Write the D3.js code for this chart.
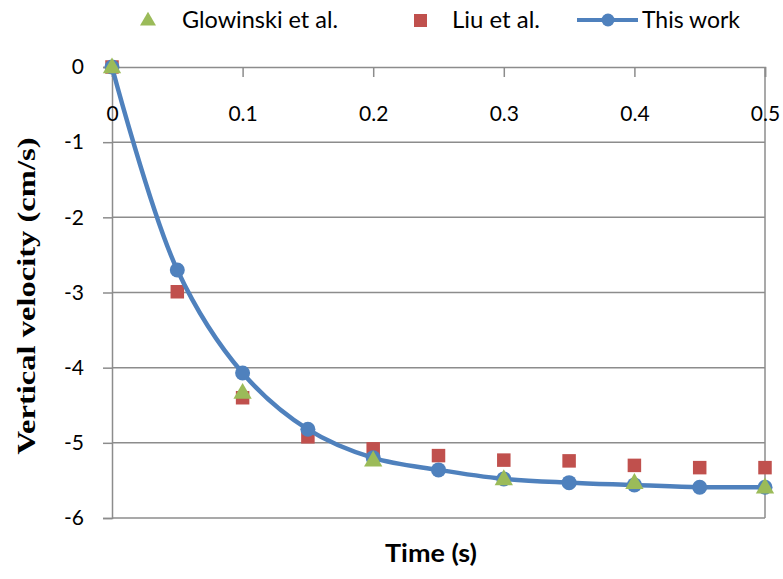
<!DOCTYPE html>
<html>
<head>
<meta charset="utf-8">
<script src="https://cdn.jsdelivr.net/npm/d3@7"></script>
<style>
  body { margin: 0; background: #fff; }
  svg text { font-family: Lato, "Open Sans", sans-serif; fill: #000; }
</style>
</head>
<body>
<div id="chart"></div>
<script>
// values
var timeWork = [0, 0.05, 0.1, 0.15, 0.2, 0.25, 0.3, 0.35, 0.4, 0.45, 0.5];
var velWork = [0, -2.70, -4.07, -4.82, -5.2, -5.36, -5.48, -5.53, -5.56, -5.59, -5.59];

var timeLiu = [0, 0.05, 0.1, 0.15, 0.2, 0.25, 0.3, 0.35, 0.4, 0.45, 0.5];
var velLiu = [0, -2.99, -4.40, -4.92, -5.08, -5.17, -5.23, -5.24, -5.30, -5.33, -5.33];

var timeGlow = [0, 0.1, 0.2, 0.3, 0.4, 0.5];
var velGlow = [0, -4.33, -5.23, -5.48, -5.53, -5.59];

var xTicks = [0, 0.1, 0.2, 0.3, 0.4, 0.5];
var yTicks = [0, -1, -2, -3, -4, -5, -6];

var width = 783, height = 579;
// plot box (note: "top" is taken by window.top, so prefix them)
var pLeft = 112, pRight = 765, pTop = 67, pBottom = 518;

var blue = "#4f81bd", red = "#c0504d", green = "#9bbb59", grid = "#8c8c8c";

var svg = d3.select("#chart").append("svg")
  .attr("width", width)
  .attr("height", height);

var x = d3.scaleLinear().domain([0, 0.5]).range([pLeft, pRight]);
var y = d3.scaleLinear().domain([0, -6]).range([pTop, pBottom]);

// horizontal gridlines
svg.selectAll(".grid")
  .data(yTicks.filter(function(d) { return d != 0; }))
  .enter().append("line")
  .attr("x1", pLeft).attr("x2", pRight)
  .attr("y1", function(d) { return y(d); })
  .attr("y2", function(d) { return y(d); })
  .attr("stroke", grid).attr("stroke-width", 1.5);

// right border
svg.append("line")
  .attr("x1", pRight).attr("x2", pRight)
  .attr("y1", pTop).attr("y2", pBottom)
  .attr("stroke", grid).attr("stroke-width", 1.5);

// y axis
var yAxis = svg.append("g")
  .attr("transform", "translate(" + pLeft + ",0)")
  .call(d3.axisLeft(y).tickValues(yTicks).tickSize(9).tickPadding(19)
    .tickFormat(function(d) { return d == 0 ? "0" : "-" + Math.abs(d); }));
yAxis.select(".domain").attr("stroke", grid).attr("stroke-width", 1.5);
yAxis.selectAll(".tick line").attr("stroke", grid).attr("stroke-width", 1.5);
yAxis.selectAll("text").style("font-size", "21px").attr("fill", "#000");

// x axis, sits on the zero line with ticks pointing down
var xAxis = svg.append("g")
  .attr("transform", "translate(0," + pTop + ")")
  .call(d3.axisBottom(x).tickValues(xTicks).tickSize(10).tickPadding(29)
    .tickFormat(function(d) { return d == 0 ? "0" : d3.format(".1f")(d); }));
xAxis.select(".domain").attr("stroke", grid).attr("stroke-width", 1.5);
xAxis.selectAll(".tick line").attr("stroke", grid).attr("stroke-width", 1.5);
xAxis.selectAll("text").style("font-size", "21px").attr("fill", "#000");

// axis titles
svg.append("text")
  .attr("x", 431).attr("y", 562)
  .attr("text-anchor", "middle")
  .attr("textLength", 92).attr("lengthAdjust", "spacingAndGlyphs")
  .style("font-size", "24px").style("font-weight", "bold")
  .text("Time (s)");

svg.append("text")
  .attr("transform", "translate(35,296) rotate(-90)")
  .attr("text-anchor", "middle")
  .attr("textLength", 317).attr("lengthAdjust", "spacingAndGlyphs")
  .style("font-family", "'Liberation Serif', 'DejaVu Serif', serif")
  .style("font-size", "25px").style("font-weight", "bold")
  .text("Vertical velocity (cm/s)");

// Liu et al. (drawn first, sits under the others)
var sq = 13.5;
svg.selectAll(".liu")
  .data(timeLiu)
  .enter().append("rect")
  .attr("x", function(d) { return x(d) - sq / 2; })
  .attr("y", function(d, i) { return y(velLiu[i]) - sq / 2; })
  .attr("width", sq).attr("height", sq)
  .attr("fill", red);

// this work line
var work = timeWork.map(function(t, i) { return { t: t, v: velWork[i] }; });
var line = d3.line()
  .x(function(d) { return x(d.t); })
  .y(function(d) { return y(d.v); })
  .curve(d3.curveCatmullRom.alpha(0.5));

svg.append("path")
  .datum(work)
  .attr("d", line)
  .attr("fill", "none")
  .attr("stroke", blue)
  .attr("stroke-width", 4.5);

svg.selectAll(".work")
  .data(work)
  .enter().append("circle")
  .attr("cx", function(d) { return x(d.t); })
  .attr("cy", function(d) { return y(d.v); })
  .attr("r", 7.5)
  .attr("fill", blue);

// Glowinski et al. on top
var tri = d3.symbol().type(d3.symbolTriangle).size(145);
svg.selectAll(".glow")
  .data(timeGlow)
  .enter().append("path")
  .attr("d", tri)
  .attr("transform", function(d, i) { return "translate(" + x(d) + "," + (y(velGlow[i]) + 1) + ")"; })
  .attr("fill", green);

// legend
var legend = svg.append("g");
legend.append("path")
  .attr("d", d3.symbol().type(d3.symbolTriangle).size(110))
  .attr("transform", "translate(148,21)")
  .attr("fill", green);
legend.append("text").attr("x", 182).attr("y", 28)
  .attr("textLength", 156).attr("lengthAdjust", "spacingAndGlyphs")
  .style("font-size", "23px").text("Glowinski et al.");

legend.append("rect")
  .attr("x", 414).attr("y", 14).attr("width", 13).attr("height", 13)
  .attr("fill", red);
legend.append("text").attr("x", 452).attr("y", 28)
  .attr("textLength", 88).attr("lengthAdjust", "spacingAndGlyphs")
  .style("font-size", "23px").text("Liu et al.");

legend.append("line")
  .attr("x1", 577).attr("x2", 638).attr("y1", 20).attr("y2", 20)
  .attr("stroke", blue).attr("stroke-width", 4);
legend.append("circle").attr("cx", 608).attr("cy", 20).attr("r", 6.5).attr("fill", blue);
legend.append("text").attr("x", 642).attr("y", 28)
  .attr("textLength", 98).attr("lengthAdjust", "spacingAndGlyphs")
  .style("font-size", "23px").text("This work");
</script>
</body>
</html>
